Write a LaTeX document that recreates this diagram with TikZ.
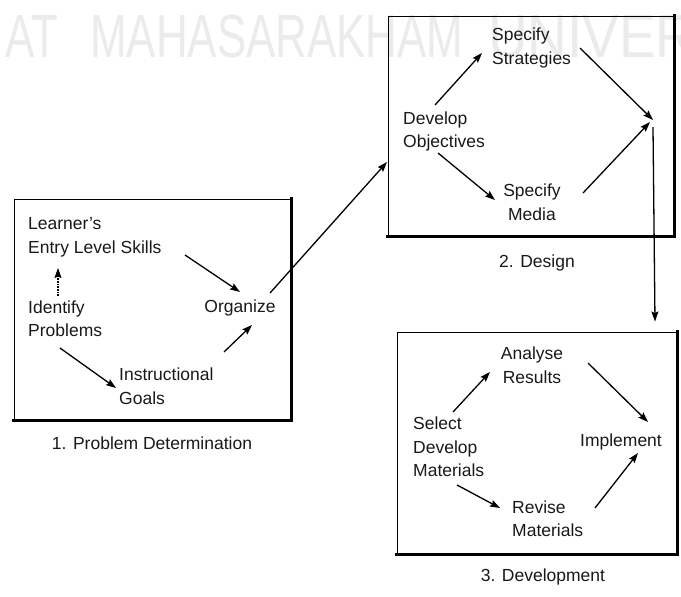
\documentclass[tikz,border=0pt]{standalone}
\usepackage{fontspec}
\setmainfont{Liberation Sans}
\usetikzlibrary{arrows.meta,calc}

\begin{document}
\begin{tikzpicture}[x=1pt,y=-1pt,
  lbl/.style={inner sep=0pt, font=\fontsize{17.5}{23.5}\selectfont, text=black!90},
  wm/.style={inner sep=0pt, font=\fontsize{61}{61}\selectfont, text=black!8, xscale=0.72},
  box/.style={draw, line width=1pt, inner sep=0pt},
  heavy/.style={line width=2.6pt, line cap=rect},
  arr/.style={line width=1.3pt, -{Stealth[length=10pt,width=7pt,inset=1.5pt]}},
  dotted arr/.style={arr, dash pattern=on 1.6pt off 1.1pt}]

% canvas
\fill[white] (0,0) rectangle (681,597);
\useasboundingbox (0,0) rectangle (681,597);

% faint background lettering
\begin{scope}
  \clip (0,0) rectangle (681,597);
  \node[wm, anchor=base west] (wm1) at (5,57) {AT};
  \node[wm, anchor=base west] (wm2) at (90,57) {MAHASARAKHAM};
  \node[wm, anchor=base west, xscale=1.25] (wm3) at (488,57) {UNIVERSITY};
\end{scope}

% frames of the three stages
\node[box, minimum width=277pt, minimum height=221pt] (box1) at (152.5,309.5) {};
\node[box, minimum width=286pt, minimum height=220pt] (box2) at (531,126) {};
\node[box, minimum width=280pt, minimum height=222pt] (box3) at (537,443) {};
\draw[heavy] (box1.north east) -- (box1.south east) -- (box1.south west);
\draw[heavy] (box2.north east) -- (box2.south east) -- (box2.south west);
\draw[heavy] (box3.north east) -- (box3.south east) -- (box3.south west);

% stage 1
\node[lbl, align=left, anchor=west] (learner) at (28,237.5) {Learner's\\Entry Level Skills};
\node[lbl, align=left, anchor=west] (identify) at (28,318.5) {Identify\\Problems};
\node[lbl] (organize) at (240,308) {Organize};
\node[lbl, align=left, anchor=west] (goals) at (119,386) {Instructional\\Goals};
\node[lbl] (cap1) at (152,443) {1. Problem Determination};

% stage 2
\node[lbl, align=left, anchor=west] (develop) at (403,131.5) {Develop\\Objectives};
\node[lbl, align=left, anchor=west] (strategies) at (492,48) {Specify\\Strategies};
\node[lbl, align=center] (media) at (532,202) {Specify\\Media};
\coordinate (merge) at (653,120);
\node[lbl] (cap2) at (537,263) {2. Design};

% stage 3
\node[lbl, align=center] (analyse) at (532,365) {Analyse\\Results};
\node[lbl, align=left, anchor=west] (select) at (413,447) {Select\\Develop\\Materials};
\node[lbl] (implement) at (621,442) {Implement};
\node[lbl, align=left, anchor=west] (revise) at (512,518.5) {Revise\\Materials};
\node[lbl] (cap3) at (543,577) {3. Development};

% connectors, stage 1
\draw[arr] ($(learner.west)+(157,17.5)$) -- ($(organize)+(0,-16)$);
\draw[dotted arr] ($(identify.west)+(30,-22.5)$) -- ($(learner.west)+(30,30.5)$);
\draw[arr] ($(identify.west)+(32,29.5)$) -- ($(goals.west)+(-3,2)$);
\draw[arr] ($(goals.west)+(105,-34)$) -- ($(organize)+(12,17)$);
\draw[arr] ($(organize)+(30,-15)$) -- ($(develop.west)+(-16,30.5)$);

% connectors, stage 2
\draw[arr] ($(develop.west)+(32,-26.5)$) -- ($(strategies.west)+(-10,5)$);
\draw[arr] ($(develop.west)+(35,21.5)$) -- ($(media)+(-37,-2)$);
\draw[arr] ($(strategies.west)+(88,0)$) -- (merge);
\draw[arr] ($(media)+(51,-9)$) -- ($(merge)+(-3,2)$);
\draw[arr] ($(merge)+(0,7)$) -- ($(box3.north -| merge)+(2,-10)$);

% connectors, stage 3
\draw[arr] ($(select.west)+(40,-35)$) -- ($(analyse)+(-42,7)$);
\draw[arr] ($(analyse)+(56,-2)$) -- ($(implement)+(27,-20)$);
\draw[arr] ($(select.west)+(44,38)$) -- ($(revise.west)+(-12,-10.5)$);
\draw[arr] ($(revise.west)+(83,-10.5)$) -- ($(implement)+(17,11)$);
\end{tikzpicture}
\end{document}
